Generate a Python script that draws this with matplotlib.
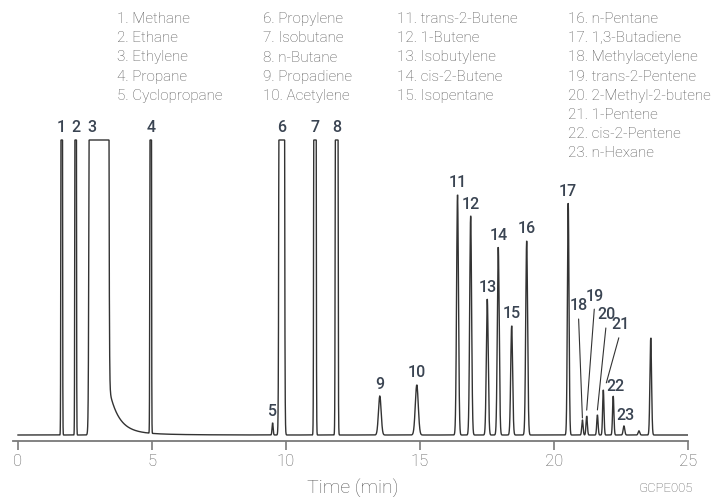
"""Light-hydrocarbon gas chromatogram with numbered peaks and compound key."""
import numpy as np
import matplotlib

matplotlib.use("Agg")
import matplotlib.pyplot as plt
from matplotlib.transforms import offset_copy

# compound key (peak number -> name), four columns
compounds = [
    "Methane", "Ethane", "Ethylene", "Propane", "Cyclopropane",
    "Propylene", "Isobutane", "n-Butane", "Propadiene", "Acetylene",
    "trans-2-Butene", "1-Butene", "Isobutylene", "cis-2-Butene", "Isopentane",
    "n-Pentane", "1,3-Butadiene", "Methylacetylene", "trans-2-Pentene",
    "2-Methyl-2-butene", "1-Pentene", "cis-2-Pentene", "n-Hexane",
]
key_columns = [(0, 5), (5, 10), (10, 15), (15, 23)]

# numbered peaks: retention time (min), apex height (% full scale; >100 is off scale), sigma (min)
peak_ids = list(range(1, 24))
peak_times = [1.63, 2.15, 3.02, 4.95, 9.50, 9.84, 11.08, 11.89, 13.50, 14.88,
              16.40, 16.89, 17.51, 17.92, 18.42, 18.98, 20.53, 21.06, 21.22,
              21.62, 21.84, 22.21, 22.61]
peak_heights = [1e3, 1e3, 1e8, 1e3, 4.1, 1e4, 2e3, 2e3, 13.2, 17.0,
                81.4, 74.2, 46.1, 63.7, 37.0, 65.8, 78.6, 5.1, 6.4,
                6.8, 15.3, 13.2, 3.1]
peak_sigmas = [0.015, 0.015, 0.0713, 0.015, 0.02, 0.036, 0.02, 0.022, 0.05, 0.055,
               0.035, 0.035, 0.035, 0.035, 0.035, 0.035, 0.03, 0.025, 0.025,
               0.025, 0.025, 0.025, 0.03]

# unlabelled peaks after n-hexane
extra_times = [23.17, 23.61]
extra_heights = [1.4, 32.9]
extra_sigmas = [0.03, 0.03]

# ethylene tailing: (amplitude, start, decay constant)
tail_terms = [(12.0, 3.45, 0.35), (1.5, 3.45, 1.2)]

FULL_SCALE = 100.0
PX_PER_UNIT = 2.95

t = np.linspace(0, 25, 100001)
signal = np.zeros_like(t)
for rt, h, s in zip(peak_times + extra_times, peak_heights + extra_heights,
                    peak_sigmas + extra_sigmas):
    signal += h * np.exp(-0.5 * ((t - rt) / s) ** 2)
# tail switches on while ethylene is still off scale, so no step shows
gate = 1.0 / (1.0 + np.exp(-(t - 3.25) / 0.01))
for amp, t0, tau in tail_terms:
    signal += gate * amp * np.exp(-np.clip(t - t0, 0, None) / tau)
signal = np.minimum(signal, FULL_SCALE)

fig = plt.figure(figsize=(7.26, 4.97), dpi=100)
W, H = 726, 497
ax = fig.add_axes([13 / W, (H - 441) / H, 675 / W, 441 / H])
ax.plot(t, signal, color="#333333", lw=1.0, solid_joinstyle="miter")
ax.set_xlim(-5 / 26.8, 25)
ax.set_ylim(-6 / PX_PER_UNIT, 435 / PX_PER_UNIT)

for side in ("top", "left", "right"):
    ax.spines[side].set_visible(False)
ax.spines["bottom"].set_color("#7a7a7a")
ax.spines["bottom"].set_linewidth(1.3)
ax.set_yticks([])
ax.set_xticks(np.arange(0, 26, 5))
ax.tick_params(axis="x", direction="out", length=6.5, width=1.2, color="#7a7a7a",
               labelsize=12, labelcolor="#5c5c5c", pad=3)
for lab in ax.get_xticklabels():
    lab.set_fontfamily("Roboto")
    lab.set_fontweight("light")

grey_text = dict(color="#5c5c5c", family="Roboto", weight="light")
fig.text(353 / W, 1 - 488 / H, "Time (min)", ha="center", va="center",
         fontsize=14, **grey_text)
fig.text(693 / W, 1 - 488 / H, "GCPE005", ha="right", va="center",
         fontsize=9.5, **grey_text)

# compound key
col_x = [117, 263, 397, 568]
for cx, (a, b) in zip(col_x, key_columns):
    for row, idx in enumerate(range(a, b)):
        fig.text(cx / W, 1 - (23.3 + 19.1 * row) / H, f"{idx + 1}. {compounds[idx]}",
                 ha="left", va="baseline", fontsize=11, color="#555555",
                 family="Roboto", weight="light")

# peak numbers
label_style = dict(fontsize=11.5, color="#3a4452", ha="center", va="center",
                   family="Roboto", weight="medium")
leader_offsets = {  # label (dx, dy) and leader end (dx, dy), pixels from apex
    18: ((-4, 114), (0, 2)),
    19: ((8, 120), (0, 6)),
    20: ((9, 100), (0, 5)),
    21: ((17, 65), (3, 7)),
}
near_offsets = {3: (-7, 12), 5: (0, 11), 22: (2, 10), 23: (1, 10)}
for pid, rt, h in zip(peak_ids, peak_times, peak_heights):
    top = min(h, FULL_SCALE)
    if pid in leader_offsets:
        (lx, ly), (ex, ey) = leader_offsets[pid]
        end_tr = offset_copy(ax.transData, fig=fig, x=ex, y=ey, units="dots")
        ax.annotate(str(pid), xy=(rt, top), xycoords=end_tr,
                    xytext=(lx - ex, ly - ey), textcoords="offset pixels",
                    arrowprops=dict(arrowstyle="-", color="#333333", lw=0.8,
                                    shrinkA=2, shrinkB=0, relpos=(0.5, 0)),
                    **label_style)
    else:
        dx, dy = near_offsets.get(pid, (0, 12))
        ax.annotate(str(pid), xy=(rt, top), xytext=(dx, dy),
                    textcoords="offset pixels", **label_style)

fig.savefig("out.png", dpi=100)
